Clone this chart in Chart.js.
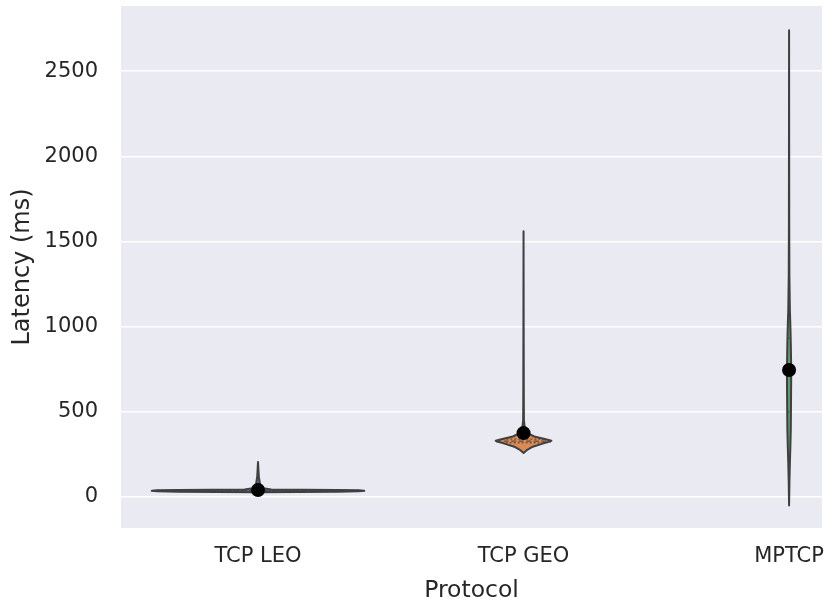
<!DOCTYPE html>
<html>
<head>
<meta charset="utf-8">
<script src="https://cdn.jsdelivr.net/npm/chart.js@4.4.0/dist/chart.umd.min.js"></script>
<style>
  html, body { margin: 0; padding: 0; background: #ffffff; }
  #wrap { width: 827px; height: 603px; }
</style>
</head>
<body>
<div id="wrap"><canvas id="c" width="827" height="603"></canvas></div>
<script>
// ---- data ----
const categories = ['TCP LEO', 'TCP GEO', 'MPTCP'];
const yTicks = [0, 500, 1000, 1500, 2000, 2500];

// violin outlines: latency (ms) and half-width (category units)
const leoLatency = [20, 28, 31, 33, 36, 39, 41, 44, 52, 70, 120, 205];
const leoDensity = [0, 0.01, 0.3, 0.38, 0.4, 0.38, 0.3, 0.05, 0.02, 0.008, 0.003, 0];

const geoLatency = [258, 275, 295, 315, 325, 330, 340, 355, 375, 400, 450, 600, 1000, 1560];
const geoDensity = [0, 0.012, 0.035, 0.075, 0.1, 0.105, 0.08, 0.04, 0.015, 0.005, 0.0015, 0.001, 0.0005, 0];

const mptcpLatency = [-50, 0, 100, 200, 300, 400, 500, 600, 700, 800, 900, 1000, 1100, 1300, 1600, 2000, 2740];
const mptcpDensity = [0, 0.0005, 0.0015, 0.003, 0.005, 0.0065, 0.007, 0.0075, 0.008, 0.0075, 0.0065, 0.005, 0.003, 0.0012, 0.0006, 0.0004, 0];

// inner quartile lines (ms)
const leoQuartiles = [33, 36, 39];
const geoQuartiles = [318, 328, 340];
const mptcpQuartiles = [500, 720, 933];

// mean latency (ms)
const meanLatency = [41, 375, 745];

const violinColors = ['#5975a4', '#dc8a55', '#5f9e6e'];

const violins = [
  { lat: leoLatency, dens: leoDensity, q: leoQuartiles },
  { lat: geoLatency, dens: geoDensity, q: geoQuartiles },
  { lat: mptcpLatency, dens: mptcpDensity, q: mptcpQuartiles }
];

function interp(lat, dens, v) {
  for (let i = 0; i < lat.length - 1; i++) {
    if (v >= lat[i] && v <= lat[i + 1]) {
      const t = (v - lat[i]) / (lat[i + 1] - lat[i]);
      return dens[i] + t * (dens[i + 1] - dens[i]);
    }
  }
  return 0;
}

const bgPlugin = {
  id: 'bg',
  beforeDraw(chart) {
    const { ctx, chartArea: a } = chart;
    ctx.save();
    ctx.fillStyle = '#eaeaf2';
    ctx.fillRect(a.left, a.top, a.right - a.left, a.bottom - a.top);
    ctx.restore();
  }
};

const violinPlugin = {
  id: 'violins',
  beforeDatasetsDraw(chart) {
    const { ctx } = chart;
    const xs = chart.scales.x, ys = chart.scales.y;
    ctx.save();
    violins.forEach((v, i) => {
      ctx.beginPath();
      for (let k = 0; k < v.lat.length; k++) {
        const px = xs.getPixelForValue(i - v.dens[k]);
        const py = ys.getPixelForValue(v.lat[k]);
        if (k === 0) ctx.moveTo(px, py); else ctx.lineTo(px, py);
      }
      for (let k = v.lat.length - 1; k >= 0; k--) {
        ctx.lineTo(xs.getPixelForValue(i + v.dens[k]), ys.getPixelForValue(v.lat[k]));
      }
      ctx.closePath();
      ctx.fillStyle = violinColors[i];
      ctx.fill();
      ctx.lineJoin = 'round';
      ctx.strokeStyle = '#404040';
      ctx.lineWidth = 2;
      ctx.stroke();
      // quartile lines
      v.q.forEach((qv, j) => {
        const w = interp(v.lat, v.dens, qv);
        const py = ys.getPixelForValue(qv);
        ctx.beginPath();
        ctx.setLineDash(j === 1 ? [5, 2.5] : [2, 2]);
        ctx.lineWidth = 1;
        ctx.strokeStyle = '#404040';
        ctx.moveTo(xs.getPixelForValue(i - w), py);
        ctx.lineTo(xs.getPixelForValue(i + w), py);
        ctx.stroke();
      });
      ctx.setLineDash([]);
    });
    ctx.restore();
  }
};

const FONT = 'DejaVu Sans';
const TEXT = '#262626';

new Chart(document.getElementById('c'), {
  type: 'scatter',
  data: {
    datasets: [{
      label: 'mean',
      data: meanLatency.map((v, i) => ({ x: i, y: v })),
      pointRadius: 7,
      pointHoverRadius: 7,
      backgroundColor: '#000000',
      borderColor: '#000000',
      borderWidth: 0,
      clip: false
    }]
  },
  options: {
    responsive: false,
    animation: false,
    events: [],
    layout: { autoPadding: false, padding: { top: 6, right: 5, left: 0, bottom: 0 } },
    plugins: { legend: { display: false }, tooltip: { enabled: false } },
    scales: {
      x: {
        type: 'linear',
        min: -0.516,
        max: 2.124,
        afterBuildTicks(s) { s.ticks = categories.map((c, i) => ({ value: i })); },
        afterFit(s) { s.height = 75; s.paddingLeft = 0; s.paddingRight = 0; },
        ticks: {
          callback: (v) => categories[v],
          color: TEXT,
          font: { family: FONT, size: 21 },
          padding: 16,
          maxRotation: 0,
          autoSkip: false
        },
        grid: { display: false, drawTicks: false },
        border: { display: false },
        title: {
          display: true,
          text: 'Protocol',
          color: TEXT,
          font: { family: FONT, size: 23.5, lineHeight: 1.0 },
          padding: { top: 0, bottom: 0 }
        }
      },
      y: {
        type: 'linear',
        min: -182,
        max: 2882,
        afterBuildTicks(s) { s.ticks = yTicks.map(v => ({ value: v })); },
        afterFit(s) { s.width = 121; s.paddingTop = 0; s.paddingBottom = 0; },
        ticks: {
          callback: (v) => String(v),
          color: TEXT,
          font: { family: FONT, size: 21 },
          padding: 23
        },
        grid: { color: '#ffffff', lineWidth: 1.5, drawTicks: false },
        border: { display: false },
        title: {
          display: true,
          text: 'Latency (ms)',
          color: TEXT,
          font: { family: FONT, size: 24 },
          padding: { top: 8, bottom: 0 }
        }
      }
    }
  },
  plugins: [bgPlugin, violinPlugin]
});
</script>
</body>
</html>
